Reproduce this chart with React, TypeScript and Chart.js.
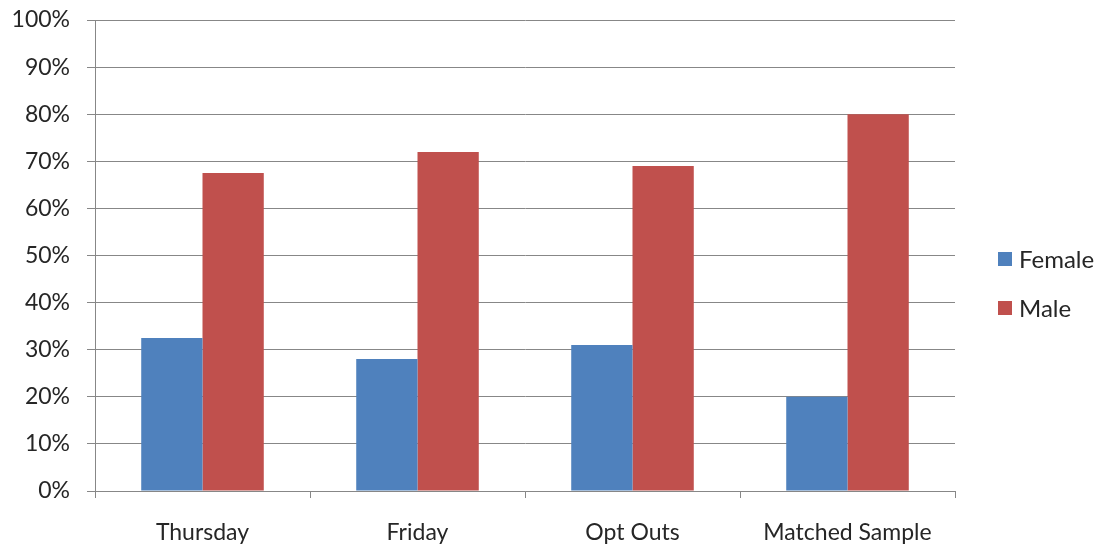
import React, { useEffect, useRef } from "react";
import { Chart, registerables } from "chart.js";

Chart.register(...registerables);

const categories = ["Thursday", "Friday", "Opt Outs", "Matched Sample"];
const femaleValues = [32.5, 28, 31, 20];
const maleValues = [67.5, 72, 69, 80];
const seriesNames = ["Female", "Male"];
const seriesColors = ["#4F81BD", "#C0504D"];

const FONT = "Lato, 'Open Sans', sans-serif";
const TEXT = "#262626";
const GRID = "#878787";

// Legend drawn to the right of the plot, vertically centred
const sideLegend = {
  id: "sideLegend",
  afterDraw(chart: any) {
    const ctx = chart.ctx;
    const area = chart.chartArea;
    const items = chart.data.datasets;
    const rowGap = 49;
    const centerY = (area.top + area.bottom) / 2 + 28;
    const startY = centerY - ((items.length - 1) * rowGap) / 2;
    const x = area.right + 43;
    ctx.save();
    ctx.font = `24px ${FONT}`;
    ctx.textBaseline = "middle";
    ctx.textAlign = "left";
    items.forEach((ds: any, i: number) => {
      const y = startY + i * rowGap;
      ctx.fillStyle = ds.backgroundColor;
      ctx.fillRect(x, y - 7, 14, 14);
      ctx.fillStyle = TEXT;
      ctx.fillText(ds.label, x + 21, y + 1);
    });
    ctx.restore();
  },
};

export default function App() {
  const canvasRef = useRef<HTMLCanvasElement | null>(null);

  useEffect(() => {
    if (!canvasRef.current) return;
    const chart = new Chart(canvasRef.current, {
      type: "bar",
      data: {
        labels: categories,
        datasets: [
          { label: seriesNames[0], data: femaleValues, backgroundColor: seriesColors[0] },
          { label: seriesNames[1], data: maleValues, backgroundColor: seriesColors[1] },
        ],
      },
      options: {
        animation: false,
        responsive: true,
        maintainAspectRatio: false,
        layout: { padding: { top: 20, right: 148, left: 0, bottom: 0 } },
        datasets: { bar: { categoryPercentage: 0.57, barPercentage: 1 } },
        plugins: { legend: { display: false }, tooltip: { enabled: false } },
        scales: {
          x: {
            afterFit: (s: any) => {
              s.height = 57;
              s.paddingLeft = 0;
              s.paddingRight = 0;
            },
            grid: {
              offset: true,
              drawOnChartArea: false,
              drawTicks: true,
              tickLength: 7,
              color: GRID,
            },
            border: { color: GRID, width: 1 },
            ticks: { color: TEXT, font: { family: FONT, size: 23 }, padding: 21 },
          },
          y: {
            min: 0,
            max: 100,
            afterFit: (s: any) => {
              s.width = 95;
              s.paddingTop = 0;
              s.paddingBottom = 0;
            },
            grid: { color: GRID, tickLength: 8, drawTicks: true },
            border: { color: GRID, width: 1 },
            ticks: {
              stepSize: 10,
              color: TEXT,
              padding: 17,
              font: { family: FONT, size: 23 },
              callback: (v: any) => `${v}%`,
            },
          },
        },
      },
      plugins: [sideLegend],
    });
    return () => chart.destroy();
  }, []);

  return (
    <div style={{ position: "absolute", left: 0, top: 0, width: 1103, height: 548, background: "#fff" }}>
      <canvas ref={canvasRef} />
    </div>
  );
}
